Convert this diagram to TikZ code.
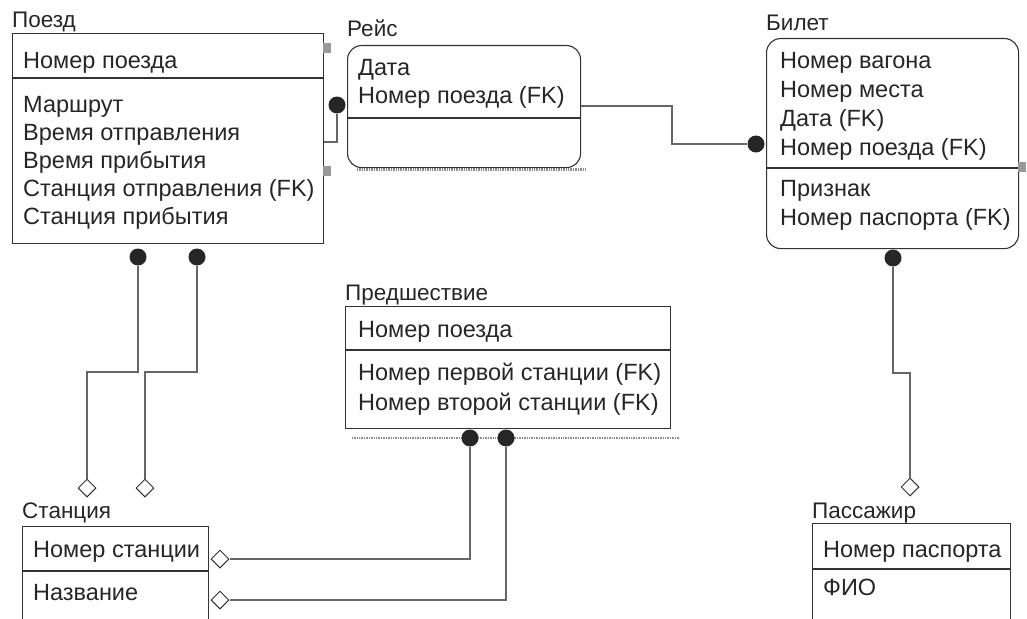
\documentclass[tikz,border=0pt]{standalone}
\usepackage{fontspec}
\setmainfont{Liberation Sans}
\usetikzlibrary{shapes.geometric}

\begin{document}
\begin{tikzpicture}[
  x=1pt,y=-1pt,
  entity/.style={draw=black!80,line width=1.1pt,anchor=north west,inner sep=0pt},
  soft/.style={entity,rounded corners=14pt},
  divider/.style={draw=black!80,line width=1.1pt},
  ename/.style={anchor=base west,inner sep=0pt,font=\fontsize{22.5}{26}\selectfont,text=black!85},
  row/.style={anchor=base west,inner sep=0pt,font=\fontsize{23.5}{27}\selectfont,text=black!85},
  dot/.style={circle,fill=black!85,inner sep=0pt,minimum size=17pt},
  ring/.style={diamond,draw=black!80,fill=white,line width=1pt,inner sep=0pt,minimum size=18pt},
  link/.style={draw=black!60,line width=1.1pt},
  handle/.style={fill=black!40,inner sep=0pt,minimum width=8pt,minimum height=10pt},
  hatch/.style={draw=black!45,dash pattern=on 1pt off 0.7pt}
]
\useasboundingbox (0,0) rectangle (1027,618);

% Поезд
\node[entity,minimum width=311pt,minimum height=210pt] (train) at (12,33) {};
\draw[divider] (train.west |- 0,78) -- (train.east |- 0,78);
\node[ename] (train-t) at (12,28) {Поезд};
\node[row] (train-k) at (23,68) {Номер поезда};
\foreach \a [count=\i from 0] in {Маршрут,Время отправления,Время прибытия,Станция отправления (FK),Станция прибытия}
  \node[row] (train-a\i) at (23,{112+28*\i}) {\a};
\node[handle] (h1) at (327,48) {};
\node[handle] (h2) at (327,171) {};

% Рейс
\draw[hatch,line width=3pt] (357,169) -- (585,169);
\node[soft,fill=white,minimum width=233pt,minimum height=122pt] (trip) at (347,45) {};
\draw[divider] (trip.west |- 0,118) -- (trip.east |- 0,118);
\node[ename] (trip-t) at (347,37) {Рейс};
\node[row] (trip-k1) at (358,75) {Дата};
\node[row] (trip-k2) at (358,103) {Номер поезда (FK)};

% Билет
\node[soft,minimum width=252pt,minimum height=210pt] (ticket) at (766,38) {};
\draw[divider] (ticket.west |- 0,168) -- (ticket.east |- 0,168);
\node[ename] (ticket-t) at (766,31) {Билет};
\foreach \a [count=\i from 0] in {Номер вагона,Номер места,Дата (FK),Номер поезда (FK)}
  \node[row] (ticket-k\i) at (780,{68+29*\i}) {\a};
\node[row] (ticket-a1) at (780,196) {Признак};
\node[row] (ticket-a2) at (780,225) {Номер паспорта (FK)};
\node[handle] (h3) at (1022,167) {};

% Предшествие
\draw[hatch,line width=1.5pt] (352,438) -- (680,438);
\node[entity,minimum width=325pt,minimum height=122pt] (prec) at (345,306) {};
\draw[divider] (prec.west |- 0,350) -- (prec.east |- 0,350);
\node[ename] (prec-t) at (345,300) {Предшествие};
\node[row] (prec-k) at (358,337) {Номер поезда};
\node[row] (prec-a1) at (358,380) {Номер первой станции (FK)};
\node[row] (prec-a2) at (358,410) {Номер второй станции (FK)};

% Станция
\node[entity,minimum width=186pt,minimum height=110pt] (station) at (22,526) {};
\draw[divider] (station.west |- 0,571) -- (station.east |- 0,571);
\node[ename] (station-t) at (22,518) {Станция};
\node[row] (station-k) at (33,557) {Номер станции};
\node[row] (station-a) at (33,600) {Название};

% Пассажир
\node[entity,minimum width=198pt,minimum height=110pt] (pass) at (812,523) {};
\draw[divider] (pass.west |- 0,569) -- (pass.east |- 0,569);
\node[ename] (pass-t) at (812,518) {Пассажир};
\node[row] (pass-k) at (823,557) {Номер паспорта};
\node[row] (pass-a) at (823,595) {ФИО};

% связи
\node[dot] (trip-d) at (337,105) {};
\draw[link] (trip-d.south) |- (train.east |- 0,142);

\node[dot] (ticket-d) at (756,144) {};
\draw[link] (trip.east |- 0,106) -| (672,144) -- (ticket-d.west);

\node[dot] (pass-d) at (893,258) {};
\node[ring] (pass-m) at (910,487) {};
\draw[link] (pass-d.south) -- (893,373) -| (pass-m.north);

\node[dot] (train-d1) at (138,257) {};
\node[dot] (train-d2) at (197,257) {};
\node[ring] (station-m1) at (87,488) {};
\node[ring] (station-m2) at (145,488) {};
\draw[link] (train-d1.south) -- (138,372) -| (station-m1.north);
\draw[link] (train-d2.south) -- (197,372) -| (station-m2.north);

\node[dot] (prec-d1) at (470,438) {};
\node[dot] (prec-d2) at (506,438) {};
\node[ring] (station-m3) at (220,559) {};
\node[ring] (station-m4) at (220,600) {};
\draw[link] (prec-d1.south) |- (station-m3.east);
\draw[link] (prec-d2.south) |- (station-m4.east);
\end{tikzpicture}
\end{document}
